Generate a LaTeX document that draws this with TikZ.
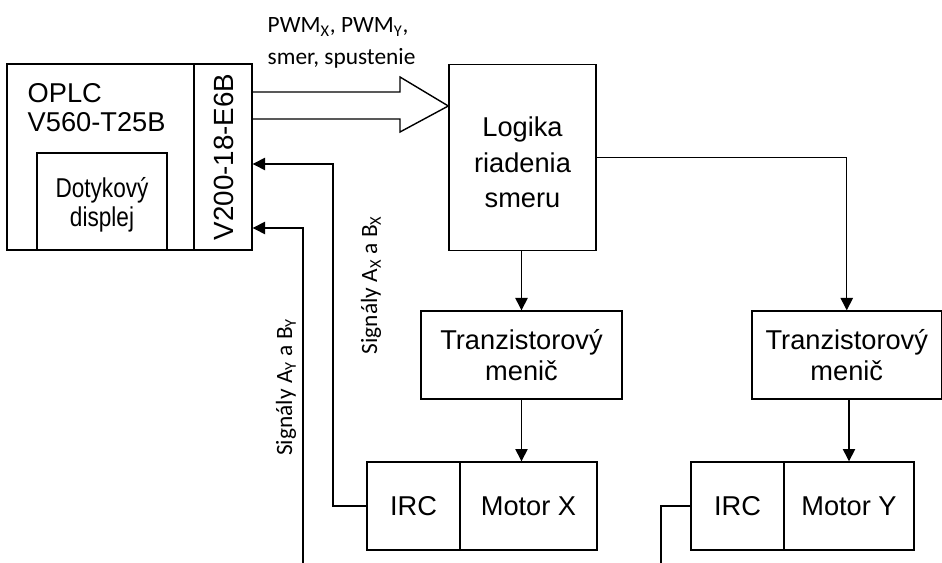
\documentclass[tikz,border=0pt]{standalone}
\usepackage{fontspec}
\setmainfont{Liberation Sans}
\newfontfamily\calibri{Carlito}
\usetikzlibrary{arrows.meta}
\usetikzlibrary{calc}

\tikzset{
	blk/.style 2 args={draw, minimum width=#1*0.02cm, minimum height=#2*0.02cm,
		inner sep=0pt, align=center, font=\fontsize{15.5}{19}\selectfont},
	txt/.style={inner sep=0pt, align=center, font=\fontsize{15.5}{19}\selectfont},
	sig/.style={-{Triangle[length=7pt,width=7pt]}},
	lbl/.style={inner sep=0pt, font=\calibri\fontsize{13.3}{16}\selectfont},
}
\newcommand{\narrow}[1]{\scalebox{0.83}[1]{#1}}

\begin{document}
\begin{tikzpicture}[x=0.02cm, y=-0.02cm, line width=0.8pt]
	% 942 x 563, 1 unit = 1 px, y down
	\useasboundingbox (0,0) rectangle (942,563);
	% OPLC with the module
	\node[blk={187}{186}] (oplc) at (100.5,157) {};
	\node[blk={58}{186}] (modul) at (223,157) {};
	\node[txt, rotate=90, font=\fontsize{15.8}{18}\selectfont] (modulTxt) at (224,157) {V200-18-E6B};
	\node[txt, anchor=north west, align=left, font=\fontsize{15.5}{16.6}\selectfont] (oplcTxt) at (27,83) {OPLC\\V560-T25B};
	\node[blk={130}{97}] (displej) at (102,201.5) {};
	\node[txt, font=\fontsize{15.5}{16.6}\selectfont] (displejTxt) at ($(displej.center)+(0,3)$) {\narrow{Dotykový}\\\narrow{displej}};

	% control and drivers
	\node[blk={147}{186}] (logika) at (522.5,157.5) {};
	\node[txt, font=\fontsize{15.5}{20.2}\selectfont] (logikaTxt) at ($(logika.center)+(0,5)$) {Logika\\riadenia\\smeru};
	\node[blk={201}{88}, font=\fontsize{15.5}{17.6}\selectfont] (tranzX) at (521.5,355) {Tranzistorový\\menič};
	\node[blk={189.5}{88}, font=\fontsize{15.5}{17.6}\selectfont] (tranzY) at (846.75,355) {Tranzistorový\\menič};

	% motors
	\node[blk={93}{88}] (ircX) at (413.5,506) {IRC};
	\node[blk={137}{88}] (motorX) at (528.5,506) {Motor X};
	\node[blk={93}{88}] (ircY) at (737.5,506) {IRC};
	\node[blk={130}{88}] (motorY) at (849,506) {Motor Y};

	% wide arrow
	\draw ($(modul.east)+(0,-65)$) -- (400,92) -- (400,77) -- ($(logika.west)+(0,-51.5)$)
		-- (400,132) -- (400,119) -- ($(modul.east)+(0,-38)$);

	% connectors
	\draw[sig] (logika.south -| tranzX.north) -- (tranzX.north);
	\draw[sig] (logika.east) -| (tranzY.north);
	\draw[sig] (tranzX.south) -- (tranzX.south |- motorX.north);
	\draw[sig] (tranzY.south -| motorY.north) -- (motorY.north);

	% feedback
	\coordinate (fbX) at (333,164);
	\coordinate (fbY) at (303,563);
	\coordinate (endY) at (661,563);
	\coordinate (inY) at ($(modul.east)+(0,71)$);
	\draw[sig] (ircX.west) -| (fbX) -- (fbX -| modul.east);
	\draw[sig] (fbY) |- (inY);
	\draw (ircY.west) -| (endY);

	% labels
	\node[lbl, anchor=base west] (pwm) at (267,33) {PWM\textsubscript{X}, PWM\textsubscript{Y},};
	\node[lbl, anchor=base west] (smer) at (267,65) {smer, spustenie};
	\node[lbl, rotate=90, anchor=base] (sigX) at (377,285) {Signály A\textsubscript{X} a B\textsubscript{X}};
	\node[lbl, rotate=90, anchor=base] (sigY) at (292,387) {Signály A\textsubscript{Y} a B\textsubscript{Y}};
\end{tikzpicture}
\end{document}
